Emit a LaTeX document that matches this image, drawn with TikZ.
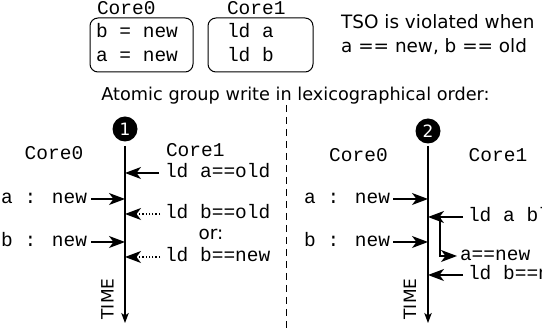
\documentclass[tikz,border=0pt]{standalone}
\usepackage{fontspec}
\setmainfont{DejaVu Sans}
\newfontfamily\monofont{Liberation Mono}
\usetikzlibrary{arrows.meta}
\begin{document}
\begin{tikzpicture}[x=1pt,y=-1pt,
  mono/.style={font=\monofont\fontsize{19.5}{22}\selectfont, inner sep=0pt, outer sep=0pt, text height=9pt, text depth=0pt},
  sans/.style={font=\fontsize{18.4}{22}\selectfont, inner sep=0pt},
  timelbl/.style={font=\fontsize{17}{17}\selectfont, inner sep=0pt, rotate=90},
  arr/.style={line width=1.3pt, -{Stealth[length=16pt,width=12pt,inset=4.5pt]}},
  dotarr/.style={arr, dash pattern=on 1.3pt off 2pt},
  tl/.style={line width=1.1pt, -{Stealth[length=10pt,width=7.5pt,inset=2.5pt]}},
  num/.style={circle, fill=black, inner sep=0pt, minimum size=25pt, text=white, font=\fontsize{17}{17}\selectfont},
  box/.style={draw, line width=1pt, rounded corners=8pt, inner sep=0pt}
]
\useasboundingbox (0,0) rectangle (542,331);
\clip (0,0) rectangle (542,331);
% top
\node[mono, anchor=west] (h0) at (97,10.5) {Core0};
\node[mono, anchor=west] (h1) at (227,10.5) {Core1};
\node[box, minimum width=103pt, minimum height=54pt] (bx0) at (141.5,45) {};
\node[box, minimum width=105pt, minimum height=54pt] (bx1) at (260.5,45) {};
\node[mono, anchor=west] (w0b) at (96,33.5) {b = new};
\node[mono, anchor=west] (w0a) at (96,57.5) {a = new};
\node[mono, anchor=west] (r1a) at (227,33.5) {ld a};
\node[mono, anchor=west] (r1b) at (227,57.5) {ld b};
\node[sans, anchor=base west] (tso1) at (341,29) {TSO is violated when};
\node[sans, anchor=base west] (tso2) at (341,52.5) {a == new, b == old};
\node[sans, font=\fontsize{17.7}{22}\selectfont, anchor=base] (atom) at (295.5,101) {Atomic group write in lexicographical order:};
% divider
\coordinate (dtop) at (286,105);
\coordinate (dbot) at (286,331);
\draw[line width=1pt, dash pattern=on 7pt off 5pt] (dtop) -- (dbot);
% panel 1
\node[num] (c1) at (125,129) {1};
\coordinate (t1s) at (125,146);
\coordinate (t1e) at (125,323);
\draw[tl] (t1s) -- (t1e);
\node[mono] (p1c0) at (54,155.5) {Core0};
\node[mono, anchor=west] (p1c1) at (166,152.5) {Core1};
\node[mono, anchor=west] (p1l1) at (165,173) {ld a==old};
\node[mono, anchor=east] (p1a) at (87,199) {a : new};
\node[mono, anchor=west] (p1l2) at (165,214) {ld b==old};
\node[sans, anchor=base] (or) at (211,240) {or:};
\node[mono, anchor=east] (p1b) at (87,242) {b : new};
\node[mono, anchor=west] (p1l3) at (165,257) {ld b==new};
\node[timelbl] (time1) at (107.5,299) {TIME};
\draw[arr, shorten <=6pt] (p1l1.west) -- (p1l1.west -| t1s);
\draw[arr, shorten <=4pt] (p1a.east) -- (p1a.east -| t1s);
\draw[dotarr, shorten <=5pt] (p1l2.west) -- (p1l2.west -| t1s);
\draw[arr, shorten <=4pt] (p1b.east) -- (p1b.east -| t1s);
\draw[dotarr, shorten <=5pt] (p1l3.west) -- (p1l3.west -| t1s);
% panel 2
\node[num] (c2) at (428,131) {2};
\coordinate (t2s) at (428,146);
\coordinate (t2e) at (428,323);
\draw[tl] (t2s) -- (t2e);
\node[mono] (p2c0) at (358.5,157.5) {Core0};
\node[mono] (p2c1) at (498,157.5) {Core1};
\node[mono, anchor=east] (p2a) at (390,199) {a : new};
\node[mono, anchor=west] (p2l1) at (468,217) {ld a bl};
\node[mono, anchor=east] (p2b) at (390,242) {b : new};
\node[mono, anchor=west] (p2n) at (460,256) {a==new};
\node[mono, anchor=west] (p2l2) at (468,275) {ld b==n};
\node[timelbl] (time2) at (410,299) {TIME};
\coordinate (bs) at (440,217);
\draw[arr, shorten <=3pt] (p2a.east) -- (p2a.east -| t2s);
\draw[arr, shorten <=5pt] (p2l1.west) -- (p2l1.west -| t2s);
\draw[arr, shorten <=3pt] (p2b.east) -- (p2b.east -| t2s);
\draw[arr, shorten >=3pt] (bs) |- (p2n.west);
\draw[arr, shorten <=5pt] (p2l2.west) -- (p2l2.west -| t2s);
\end{tikzpicture}
\end{document}
